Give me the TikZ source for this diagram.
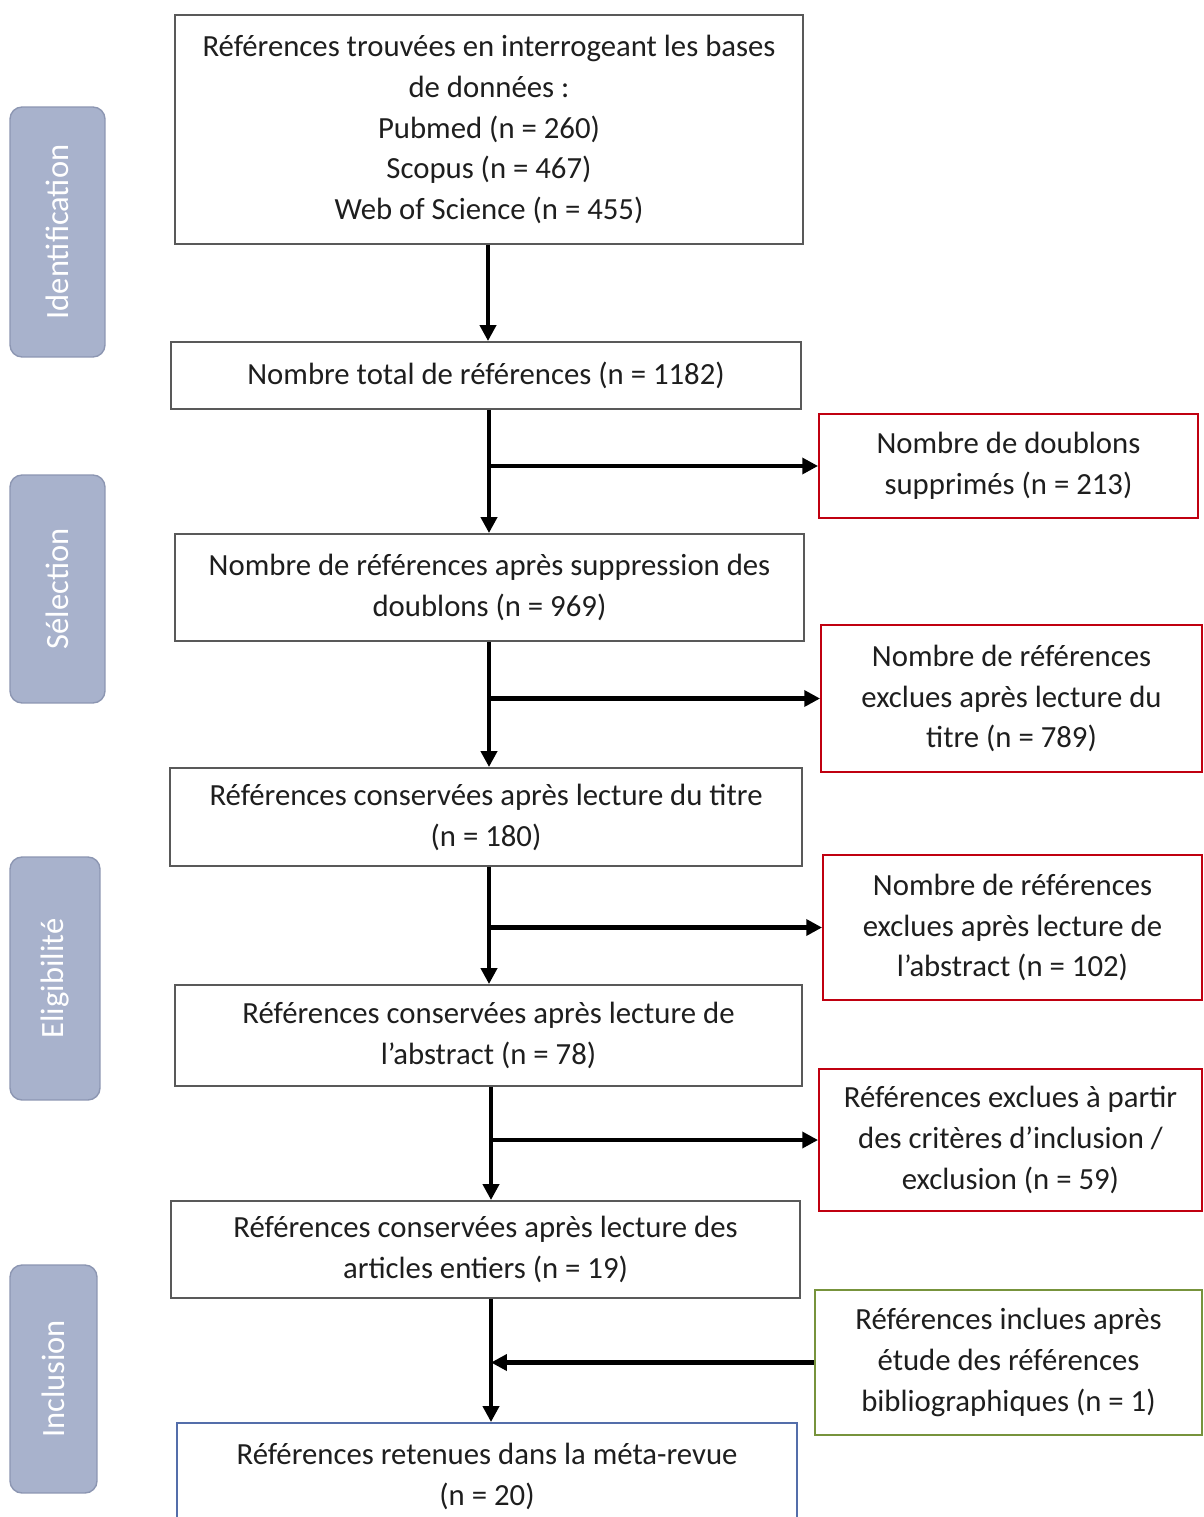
\documentclass[tikz,border=0pt]{standalone}
\usepackage{fontspec}
\setmainfont{Carlito}
\usetikzlibrary{arrows.meta}
\definecolor{boxgray}{RGB}{89,89,89}
\definecolor{boxred}{RGB}{192,0,16}
\definecolor{boxgreen}{RGB}{119,147,60}
\definecolor{boxblue}{RGB}{84,110,170}
\definecolor{sidefill}{RGB}{168,178,204}
\definecolor{sidedraw}{RGB}{140,150,178}
\definecolor{txt}{RGB}{30,30,30}
\tikzset{
  base/.style={rectangle, line width=1.1pt, inner sep=0pt, align=center, text=txt,
    font=\fontsize{17.5}{23.3}\selectfont},
  mainbox/.style={base, draw=boxgray},
  redbox/.style={base, draw=boxred},
  greenbox/.style={base, draw=boxgreen},
  bluebox/.style={base, draw=boxblue},
  side/.style={rectangle, rounded corners=0.24cm, fill=sidefill, draw=sidedraw, line width=0.8pt,
    text=white, rotate=90, inner sep=0pt, font=\fontsize{18.5}{22}\selectfont},
  arr/.style={line width=2.3pt, -{Triangle[length=9pt,width=9pt]}},
  ln/.style={line width=2.3pt}
}
\begin{document}
\begin{tikzpicture}[x=0.02cm, y=-0.02cm]
\useasboundingbox (0,0) rectangle (1203,1517);
\clip (0,0) rectangle (1203,1517);
\fill[white] (0,0) rectangle (1203,1517);

% side labels
\node[side, minimum width=5cm, minimum height=1.9cm] (sid) at (57.5,232) {Identification};
\node[side, minimum width=4.56cm, minimum height=1.9cm] (ssel) at (57.5,589) {Sélection};
\node[side, minimum width=4.86cm, minimum height=1.8cm] (sel) at (55,978.5) {Eligibilité};
\node[side, minimum width=4.56cm, minimum height=1.74cm] (sinc) at (53.5,1379) {Inclusion};

% main column
\node[mainbox, minimum width=12.56cm, minimum height=4.58cm] (b1) at (489,129.5)
  {Références trouvées en interrogeant les bases\\de données :\\Pubmed (n = 260)\\Scopus (n = 467)\\Web of Science (n = 455)};
\node[mainbox, minimum width=12.6cm, minimum height=1.34cm] (b2) at (486,375.5)
  {Nombre total de références (n = 1182)};
\node[mainbox, minimum width=12.58cm, minimum height=2.14cm] (b4) at (489.5,587.5)
  {Nombre de références après suppression des\\doublons (n = 969)};
\node[mainbox, minimum width=12.64cm, minimum height=1.96cm] (b6) at (486,817)
  {Références conservées après lecture du titre\\(n = 180)};
\node[mainbox, minimum width=12.54cm, minimum height=2.02cm] (b8) at (488.5,1035.5)
  {Références conservées après lecture de\\l’abstract (n = 78)};
\node[mainbox, minimum width=12.58cm, minimum height=1.94cm] (b10) at (485.5,1249.5)
  {Références conservées après lecture des\\articles entiers (n = 19)};
\node[bluebox, minimum width=12.4cm, minimum height=2.14cm] (b12) at (487,1476.5)
  {Références retenues dans la méta-revue\\(n = 20)};

% right column
\node[redbox, minimum width=7.58cm, minimum height=2.08cm] (r1) at (1008.5,466)
  {Nombre de doublons\\supprimés (n = 213)};
\node[redbox, minimum width=7.62cm, minimum height=2.94cm] (r2) at (1011.5,698.5)
  {Nombre de références\\exclues après lecture du\\titre (n = 789)};
\node[redbox, minimum width=7.58cm, minimum height=2.9cm] (r3) at (1012.5,927.5)
  {Nombre de références\\exclues après lecture de\\l’abstract (n = 102)};
\node[redbox, minimum width=7.66cm, minimum height=2.84cm] (r4) at (1010.5,1140)
  {Références exclues à partir\\des critères d’inclusion /\\exclusion (n = 59)};
\node[greenbox, minimum width=7.74cm, minimum height=2.9cm] (g1) at (1008.5,1362.5)
  {Références inclues après\\étude des références\\bibliographiques (n = 1)};

% connectors
\coordinate (c1) at (488,0);
\coordinate (c2) at (489,0);
\coordinate (c3) at (491,0);
\draw[arr] (b1.south -| c1) -- (b2.north -| c1);
\draw[arr] (b2.south -| c2) -- (b4.north -| c2);
\draw[arr] (r1.west -| c2) -- (r1.west);
\draw[arr] (b4.south -| c2) -- (b6.north -| c2);
\draw[arr] (r2.west -| c2) -- (r2.west);
\draw[arr] (b6.south -| c2) -- (b8.north -| c2);
\draw[arr] (r3.west -| c2) -- (r3.west);
\draw[arr] (b8.south -| c3) -- (b10.north -| c3);
\draw[arr] (r4.west -| c3) -- (r4.west);
\draw[arr] (b10.south -| c3) -- (b12.north -| c3);
\draw[arr] (g1.west) -- (g1.west -| c3);
\end{tikzpicture}
\end{document}
